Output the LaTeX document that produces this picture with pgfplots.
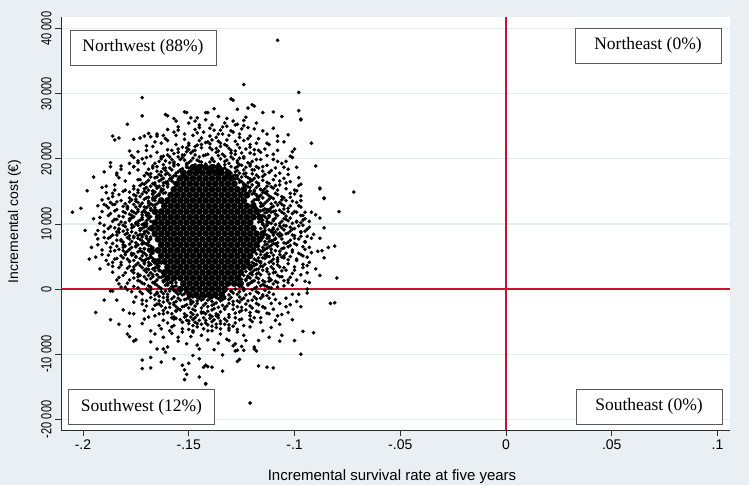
\documentclass[border=0pt]{standalone}
\usepackage{pgfplots}
\pgfplotsset{compat=1.18}
\usepackage{fontspec}
\setmainfont{Liberation Sans}
\newfontfamily\boxfont{Liberation Serif}
\definecolor{bgc}{RGB}{233,239,243}
\definecolor{gridc}{RGB}{228,236,241}
\definecolor{redc}{RGB}{204,16,48}
\definecolor{axc}{RGB}{45,45,45}
\definecolor{boxc}{RGB}{90,90,90}
\newcommand{\yl}[1]{\scalebox{0.76}[1]{#1}}
\begin{document}
\begin{tikzpicture}[x=1pt,y=1pt]
\fill[bgc] (0,0) rectangle (749,485);
\begin{axis}[
  at={(61pt,55pt)}, anchor=south west,
  scale only axis, width=669pt, height=413pt,
  xmin=-0.2104, xmax=0.1059, ymin=-21640, ymax=41780,
  axis background/.style={fill=white},
  axis x line*=bottom, axis y line*=left,
  axis line style={axc, line width=0.8pt, -},
  xtick={-0.2,-0.15,-0.1,-0.05,0,0.05,0.1},
  xticklabels={-.2,-.15,-.1,-.05,0,.05,.1},
  ytick={-20000,-10000,0,10000,20000,30000,40000},
  yticklabels={\yl{-20 000},\yl{-10 000},\yl{0},\yl{10 000},\yl{20 000},\yl{30 000},\yl{40 000}},
  tick align=outside, major tick length=6pt,
  tick style={axc, line width=0.8pt},
  ymajorgrids, grid style={gridc, line width=1.2pt},
  xticklabel style={font=\fontsize{14}{14}\selectfont},
  yticklabel style={font=\fontsize{14.5}{14.5}\selectfont, rotate=90, anchor=south},
  scaled ticks=false,
]
\addplot[redc, line width=1.2pt] coordinates {(0,-21640) (0,41780)};
\addplot[redc, line width=1.2pt] coordinates {(-0.2104,0) (0.1059,0)};
% dense core of the cloud (overlapping points)
\addplot[only marks, mark=*, mark size=3.3pt, mark options={draw=black, fill=black, line width=0.2pt}]
table[row sep=\\, x expr=\thisrow{s}/1000, y expr=\thisrow{c}*100] {
s c\\
-166 85\\-163 85\\-160 85\\-157 85\\-154 85\\-151 85\\-148 85\\-145 85\\-142 85\\-139 85\\-136 85\\-133 85\\-130 85\\-127 85\\-124 85\\-121 85\\-118 85\\-115 85\\
-167.5 93.5\\-164.5 93.5\\-161.5 93.5\\-158.5 93.5\\-155.5 93.5\\-152.5 93.5\\-149.5 93.5\\-146.5 93.5\\-143.5 93.5\\-140.5 93.5\\-137.5 93.5\\-134.5 93.5\\-131.5 93.5\\-128.5 93.5\\-125.5 93.5\\-122.5 93.5\\-119.5 93.5\\
-164.5 76.5\\-161.5 76.5\\-158.5 76.5\\-155.5 76.5\\-152.5 76.5\\-149.5 76.5\\-146.5 76.5\\-143.5 76.5\\-140.5 76.5\\-137.5 76.5\\-134.5 76.5\\-131.5 76.5\\-128.5 76.5\\-125.5 76.5\\-122.5 76.5\\-119.5 76.5\\-116.5 76.5\\
-166 102\\-163 102\\-160 102\\-157 102\\-154 102\\-151 102\\-148 102\\-145 102\\-142 102\\-139 102\\-136 102\\-133 102\\-130 102\\-127 102\\-124 102\\-121 102\\
-163 68\\-160 68\\-157 68\\-154 68\\-151 68\\-148 68\\-145 68\\-142 68\\-139 68\\-136 68\\-133 68\\-130 68\\-127 68\\-124 68\\-121 68\\-118 68\\
-164.5 110.5\\-161.5 110.5\\-158.5 110.5\\-155.5 110.5\\-152.5 110.5\\-149.5 110.5\\-146.5 110.5\\-143.5 110.5\\-140.5 110.5\\-137.5 110.5\\-134.5 110.5\\-131.5 110.5\\-128.5 110.5\\-125.5 110.5\\-122.5 110.5\\-119.5 110.5\\-116.5 110.5\\
-167.5 59.5\\-164.5 59.5\\-161.5 59.5\\-158.5 59.5\\-155.5 59.5\\-152.5 59.5\\-149.5 59.5\\-146.5 59.5\\-143.5 59.5\\-140.5 59.5\\-137.5 59.5\\-134.5 59.5\\-131.5 59.5\\-128.5 59.5\\-125.5 59.5\\-122.5 59.5\\-119.5 59.5\\
-166 119\\-163 119\\-160 119\\-157 119\\-154 119\\-151 119\\-148 119\\-145 119\\-142 119\\-139 119\\-136 119\\-133 119\\-130 119\\-127 119\\-124 119\\-121 119\\-118 119\\
-163 51\\-160 51\\-157 51\\-154 51\\-151 51\\-148 51\\-145 51\\-142 51\\-139 51\\-136 51\\-133 51\\-130 51\\-127 51\\-124 51\\-121 51\\
-161.5 127.5\\-158.5 127.5\\-155.5 127.5\\-152.5 127.5\\-149.5 127.5\\-146.5 127.5\\-143.5 127.5\\-140.5 127.5\\-137.5 127.5\\-134.5 127.5\\-131.5 127.5\\-128.5 127.5\\-125.5 127.5\\-122.5 127.5\\-119.5 127.5\\
-164.5 42.5\\-161.5 42.5\\-158.5 42.5\\-155.5 42.5\\-152.5 42.5\\-149.5 42.5\\-146.5 42.5\\-143.5 42.5\\-140.5 42.5\\-137.5 42.5\\-134.5 42.5\\-131.5 42.5\\-128.5 42.5\\-125.5 42.5\\-122.5 42.5\\
-163 136\\-160 136\\-157 136\\-154 136\\-151 136\\-148 136\\-145 136\\-142 136\\-139 136\\-136 136\\-133 136\\-130 136\\-127 136\\-124 136\\
-160 34\\-157 34\\-154 34\\-151 34\\-148 34\\-145 34\\-142 34\\-139 34\\-136 34\\-133 34\\-130 34\\-127 34\\-124 34\\-121 34\\
-158.5 144.5\\-155.5 144.5\\-152.5 144.5\\-149.5 144.5\\-146.5 144.5\\-143.5 144.5\\-140.5 144.5\\-137.5 144.5\\-134.5 144.5\\-131.5 144.5\\-128.5 144.5\\-125.5 144.5\\-122.5 144.5\\
-161.5 25.5\\-158.5 25.5\\-155.5 25.5\\-152.5 25.5\\-149.5 25.5\\-146.5 25.5\\-143.5 25.5\\-140.5 25.5\\-137.5 25.5\\-134.5 25.5\\-131.5 25.5\\-128.5 25.5\\-125.5 25.5\\
-157 153\\-154 153\\-151 153\\-148 153\\-145 153\\-142 153\\-139 153\\-136 153\\-133 153\\-130 153\\-127 153\\-124 153\\
-160 17\\-157 17\\-154 17\\-151 17\\-148 17\\-145 17\\-142 17\\-139 17\\-136 17\\-133 17\\-130 17\\-127 17\\
-155.5 161.5\\-152.5 161.5\\-149.5 161.5\\-146.5 161.5\\-143.5 161.5\\-140.5 161.5\\-137.5 161.5\\-134.5 161.5\\-131.5 161.5\\-128.5 161.5\\
-152.5 8.5\\-149.5 8.5\\-146.5 8.5\\-143.5 8.5\\-140.5 8.5\\-137.5 8.5\\-134.5 8.5\\-131.5 8.5\\-128.5 8.5\\-125.5 8.5\\
-154 170\\-151 170\\-148 170\\-145 170\\-142 170\\-139 170\\-136 170\\-133 170\\-130 170\\
-154 0\\-151 0\\-148 0\\-145 0\\-142 0\\-139 0\\-136 0\\-133 0\\
-152.5 178.5\\-149.5 178.5\\-146.5 178.5\\-143.5 178.5\\-140.5 178.5\\-137.5 178.5\\-134.5 178.5\\-131.5 178.5\\
-148 187\\-145 187\\-142 187\\-139 187\\-136 187\\
-149.5 -8.5\\-146.5 -8.5\\-143.5 -8.5\\-140.5 -8.5\\-137.5 -8.5\\-134.5 -8.5\\
};
% individual points around the core
\addplot[only marks, mark=*, mark size=1.75pt, mark options={draw=black, fill=black, line width=0.2pt}]
table[row sep=\\, x expr=\thisrow{s}/1000, y expr=\thisrow{c}*100] {
s c\\
-171 161\\-168 172\\-173 168\\-165 181\\-162 191\\-158 199\\-153 206\\-150 214\\-146 221\\-141 226\\-137 233\\-132 229\\-127 222\\-123 215\\-119 207\\-116 199\\-113 190\\-111 182\\-109 174\\-107 166\\
-170 178\\-167 189\\-163 203\\-160 214\\-156 222\\-152 230\\-148 236\\-143 241\\-138 244\\-134 238\\-130 243\\-126 238\\-122 231\\-118 224\\-114 215\\-110 207\\-108 196\\-105 187\\
-164 176\\-161 186\\-157 195\\-154 183\\-151 193\\-148 201\\-145 196\\-142 206\\-139 199\\-136 205\\-133 196\\-130 203\\-127 194\\-124 201\\-121 192\\-118 188\\-115 181\\-120 183\\-123 178\\-127 188\\
-159 203\\-155 210\\-151 217\\-147 213\\-144 222\\-140 217\\-135 224\\-131 216\\-128 227\\-125 209\\-121 218\\-117 213\\-113 224\\-156 236\\-161 231\\-166 226\\-170 220\\-174 211\\-176 202\\-178 193\\
-145 248\\-139 252\\-134 249\\-129 258\\-150 255\\-142 260\\-136 265\\-155 244\\-119 246\\-124 251\\
-176 158\\-180 152\\-183 145\\-178 140\\-182 136\\-185 130\\-179 127\\-184 122\\-187 116\\-181 111\\-186 104\\-183 99\\-188 93\\-184 88\\-187 80\\-182 76\\-186 70\\-181 64\\-185 59\\-180 53\\-184 47\\-178 43\\-182 37\\-176 30\\-180 25\\-174 19\\-178 14\\-172 9\\-176 4\\-170 0\\-189 148\\-191 137\\-192 110\\-190 98\\-193 68\\-189 44\\-177 55\\-179 86\\-176 118\\-174 148\\-188 125\\-185 152\\-190 79\\-186 35\\-183 18\\-179 -1\\-173 -4\\-177 99\\-181 59\\-175 65\\
-107 160\\-104 154\\-102 147\\-105 140\\-101 135\\-98 128\\-103 124\\-100 119\\-97 113\\-102 109\\-99 104\\-96 98\\-100 93\\-97 88\\-101 83\\-98 77\\-95 73\\-100 70\\-96 65\\-101 60\\-98 55\\-102 50\\-99 44\\-103 39\\-100 34\\-104 29\\-101 24\\-106 19\\-103 14\\-108 10\\-105 5\\-111 2\\-94 81\\-93 95\\-95 108\\-96 51\\-97 143\\-104 163\\-109 159\\-106 130\\-107 86\\-108 48\\-105 98\\-104 70\\-112 12\\-114 5\\-92 118\\-94 36\\-99 151\\-102 18\\
-168 -6\\-164 -11\\-160 -16\\-157 -21\\-152 -26\\-148 -31\\-144 -35\\-140 -40\\-136 -44\\-132 -49\\-128 -52\\-125 -46\\-121 -41\\-117 -35\\-114 -29\\-111 -22\\-109 -16\\-113 -10\\-119 -12\\-126 -20\\-132 -26\\-138 -30\\-143 -25\\-149 -20\\-155 -14\\-161 -3\\-166 -25\\-162 -38\\-157 -43\\-153 -51\\-147 -44\\-142 -48\\-137 -54\\-131 -60\\-124 -56\\-120 -50\\-116 -44\\-112 -38\\-110 -8\\-170 -18\\-150 -62\\-141 -64\\-135 -61\\-127 -62\\-158 -58\\
-147 219\\-142 225\\-137 216\\-132 220\\-155 215\\-128 212\\-144 232\\-139 229\\
-160 206\\-155 203\\-151 211\\-143 205\\-139 201\\-134 207\\-130 209\\-126 201\\-152 206\\-136 212\\
-164 196\\-159 194\\-155 191\\-152 198\\-147 191\\-140 195\\-136 192\\-132 198\\-126 191\\-120 196\\-149 197\\-133 191\\
-167 186\\-162 185\\-158 183\\-154 182\\-151 187\\-147 184\\-142 188\\-139 182\\-135 187\\-132 183\\-128 186\\-124 183\\-121 189\\-117 186\\-155 191\\-145 180\\
-152 175\\-154 171\\-157 174\\-160 178\\-163 174\\-166 171\\-169 176\\-132 173\\-130 178\\-127 174\\-124 177\\-122 171\\-118 175\\-115 173\\
-157 163\\-159 169\\-161 164\\-164 166\\-167 162\\-170 164\\-156 160\\-128 162\\-125 165\\-122 163\\-120 167\\-117 162\\-113 164\\-127 170\\
-160 157\\-163 151\\-165 155\\-168 158\\-171 154\\-174 152\\-160 161\\-124 154\\-121 151\\-118 156\\-116 153\\-113 158\\-110 155\\-123 159\\
-162 147\\-165 143\\-167 145\\-170 148\\-173 142\\-176 145\\-163 150\\-122 142\\-119 147\\-116 144\\-113 146\\-111 141\\-108 145\\-121 150\\
-164 134\\-166 139\\-169 135\\-172 132\\-175 138\\-178 134\\-165 131\\-120 134\\-117 137\\-114 132\\-112 138\\-109 133\\-106 137\\-119 131\\
-166 125\\-168 121\\-171 126\\-174 122\\-176 130\\-179 125\\-167 129\\-118 124\\-115 129\\-112 122\\-110 127\\-107 121\\-105 128\\-117 121\\
-168 111\\-170 117\\-172 114\\-175 116\\-177 113\\-181 119\\-171 120\\-117 115\\-114 111\\-111 118\\-108 113\\-105 116\\-103 119\\-116 120\\
-168 104\\-170 101\\-172 107\\-175 102\\-178 108\\-182 103\\-169 110\\-115 106\\-112 102\\-109 109\\-106 104\\-104 107\\-101 101\\-117 103\\
-169 93\\-171 95\\-174 98\\-177 94\\-180 96\\-183 92\\-170 100\\-116 93\\-113 98\\-110 94\\-107 97\\-105 91\\-102 95\\-115 101\\
-169 86\\-172 83\\-175 86\\-178 82\\-181 89\\-184 83\\-173 90\\-116 85\\-112 81\\-109 88\\-106 83\\-103 86\\-100 82\\-114 90\\
-169 75\\-171 71\\-174 78\\-177 73\\-179 79\\-182 74\\-168 80\\-117 72\\-115 79\\-111 74\\-109 78\\-105 71\\-102 75\\-116 80\\
-167 64\\-170 69\\-173 62\\-175 66\\-178 61\\-181 68\\-169 61\\-117 66\\-114 61\\-112 65\\-109 69\\-106 62\\-103 65\\-118 70\\
-167 55\\-169 59\\-172 51\\-174 57\\-177 52\\-180 56\\-168 50\\-118 54\\-115 59\\-113 55\\-110 52\\-107 58\\-105 51\\-119 60\\
-166 45\\-168 49\\-171 42\\-173 47\\-176 44\\-179 46\\-166 40\\-119 46\\-116 42\\-114 47\\-111 43\\-108 45\\-105 48\\-120 41\\
-164 35\\-167 31\\-169 36\\-172 33\\-175 37\\-178 35\\-163 40\\-121 33\\-118 38\\-115 35\\-113 31\\-110 39\\-107 34\\-122 39\\
-162 24\\-164 28\\-167 22\\-170 26\\-173 21\\-176 25\\-160 29\\-123 27\\-120 22\\-117 25\\-115 29\\-112 23\\-109 26\\-124 21\\
-160 16\\-162 11\\-165 14\\-167 19\\-170 15\\-174 13\\-158 12\\-125 15\\-121 17\\-119 13\\-117 16\\-114 11\\-111 14\\-126 19\\
-156 5\\-158 1\\-161 6\\-164 3\\-166 8\\-169 5\\-156 10\\-127 7\\-125 4\\-122 6\\-119 1\\-116 5\\-113 4\\-128 9\\
-151 -4\\-153 -9\\-156 -5\\-159 -3\\-162 -7\\-165 -5\\-168 -1\\-133 -4\\-129 -6\\-126 -4\\-123 -9\\-120 -1\\-117 -6\\-114 -2\\
-166 -16\\-162 -13\\-157 -12\\-154 -17\\-150 -14\\-146 -18\\-143 -12\\-140 -15\\-137 -13\\-134 -16\\-130 -13\\-127 -18\\-124 -14\\-120 -17\\-116 -14\\-149 -17\\-139 -19\\
-163 -26\\-159 -22\\-156 -27\\-151 -24\\-146 -22\\-141 -27\\-138 -23\\-134 -25\\-129 -24\\-125 -28\\-121 -26\\-118 -22\\-150 -29\\-133 -29\\
-160 -36\\-156 -34\\-152 -38\\-147 -33\\-143 -36\\-139 -32\\-135 -35\\-131 -39\\-126 -35\\-123 -32\\-148 -39\\-136 -40\\
-156 -45\\-152 -43\\-148 -47\\-143 -44\\-138 -47\\-133 -46\\-128 -44\\-150 -49\\-139 -50\\
-148 -56\\-144 -54\\-139 -57\\-135 -53\\-131 -55\\
-152 177\\-149 181\\-146 183\\-137 182\\-134 178\\-131 181\\-156 174\\-128 175\\-141 185\\-144 187\\-139 188\\-150 186\\-133 186\\-147 176\\-136 176\\
-158 170\\-160 165\\-162 159\\-163 154\\-161 148\\-164 146\\-166 141\\-159 175\\-165 157\\-167 150\\-162 163\\-155 168\\
-128 169\\-126 164\\-124 160\\-121 156\\-119 150\\-118 145\\-117 141\\-125 172\\-121 165\\-116 153\\-129 174\\-114 148\\
-167 137\\-169 132\\-166 129\\-170 125\\-171 119\\-169 114\\-172 110\\-170 105\\-171 98\\-172 93\\-171 88\\-170 81\\-168 77\\-169 72\\-168 66\\-171 62\\-172 57\\-168 53\\-169 47\\-167 43\\-168 38\\-165 33\\-166 28\\-165 22\\-167 140\\-173 127\\-174 101\\-173 84\\-172 69\\-171 44\\-169 30\\-170 116\\
-119 137\\-116 132\\-115 128\\-114 123\\-113 118\\-112 113\\-113 108\\-116 104\\-115 99\\-114 94\\-111 88\\-110 83\\-113 78\\-112 73\\-114 68\\-113 63\\-115 58\\-116 53\\-117 48\\-118 44\\-119 39\\-116 35\\-121 30\\-120 26\\-110 92\\-109 77\\-111 67\\-113 51\\-112 121\\-117 141\\-118 23\\-110 105\\
-164 18\\-162 13\\-158 9\\-157 4\\-159 0\\-156 -3\\-152 -7\\-150 -10\\-160 6\\-155 -8\\-161 15\\
-122 18\\-123 13\\-122 8\\-126 4\\-128 0\\-130 -3\\-134 -6\\-137 -10\\-124 -1\\-120 12\\-131 -9\\
-148 -12\\-145 -14\\-142 -11\\-139 -13\\-144 -17\\-136 -15\\-151 -15\\-133 -12\\
-150 224\\-145 228\\-140 223\\-136 227\\-133 222\\
-158 213\\-153 218\\-148 212\\-144 217\\-139 214\\-135 219\\-130 213\\-126 217\\-150 221\\
-162 204\\-157 208\\-153 202\\-149 209\\-145 203\\-141 207\\-137 210\\-133 204\\-128 207\\-124 203\\-121 209\\-147 206\\
-166 193\\-161 197\\-157 192\\-154 199\\-150 194\\-146 198\\-142 192\\-138 196\\-135 200\\-131 193\\-127 197\\-122 194\\-118 199\\-163 200\\-144 195\\-129 200\\
-169 184\\-165 188\\-161 182\\-157 189\\-153 185\\-149 181\\-146 187\\-141 183\\-138 189\\-134 184\\-130 188\\-127 182\\-123 187\\-119 183\\-115 188\\-151 190\\-136 181\\-144 190\\-125 190\\-159 186\\
-153 173\\-156 178\\-158 171\\-161 176\\-165 172\\-168 177\\-163 180\\-171 174\\-155 180\\
-131 176\\-129 171\\-126 178\\-123 173\\-120 177\\-117 172\\-114 176\\-128 180\\-112 179\\
-158 166\\-160 161\\-163 168\\-166 163\\-169 167\\-162 170\\-172 162\\-174 168\\
-126 167\\-124 162\\-121 169\\-118 164\\-115 167\\-112 162\\-110 168\\-119 170\\
-162 153\\-164 158\\-167 151\\-170 156\\-173 159\\-166 160\\-176 154\\-169 152\\
-122 157\\-119 152\\-117 159\\-114 154\\-111 157\\-108 152\\-120 160\\-115 151\\
-164 144\\-166 149\\-169 141\\-172 146\\-175 143\\-167 147\\-178 149\\-171 150\\
-120 146\\-117 141\\-115 148\\-112 143\\-109 147\\-106 142\\-113 150\\-118 144\\
-166 136\\-168 131\\-171 138\\-174 133\\-177 137\\-170 140\\-180 131\\-175 135\\
-118 138\\-116 132\\-113 135\\-110 139\\-107 133\\-111 131\\-104 136\\-115 140\\
-168 124\\-171 121\\-169 128\\-175 126\\-179 123\\-173 129\\-177 120\\-181 127\\
-115 121\\-116 127\\-111 125\\-108 129\\-113 122\\-105 123\\-102 128\\-109 120\\
-170 113\\-172 118\\-176 111\\-169 116\\-178 115\\-183 112\\-174 119\\-180 117\\
-114 117\\-112 111\\-109 115\\-115 113\\-106 118\\-104 112\\-110 119\\-101 116\\
-171 101\\-169 108\\-174 104\\-177 109\\-173 106\\-180 102\\-184 107\\-178 105\\
-113 104\\-116 109\\-110 107\\-107 101\\-111 101\\-105 108\\-103 105\\-99 103\\
-170 97\\-173 93\\-172 99\\-176 96\\-179 91\\-181 98\\-175 100\\-185 94\\
-114 96\\-112 91\\-109 99\\-106 94\\-113 100\\-104 97\\-101 92\\-108 92\\
-171 85\\-174 82\\-177 88\\-170 89\\-180 84\\-176 81\\-183 87\\-172 80\\
-113 83\\-115 88\\-110 86\\-107 81\\-111 90\\-104 85\\-102 89\\-108 84\\
-172 74\\-170 78\\-175 71\\-178 77\\-173 76\\-181 72\\-176 79\\-184 75\\
-114 73\\-112 78\\-116 76\\-108 71\\-106 77\\-110 75\\-103 72\\-100 78\\
-169 67\\-171 62\\-174 68\\-177 64\\-172 70\\-180 66\\-183 61\\-178 69\\
-115 64\\-113 69\\-111 61\\-108 66\\-105 63\\-110 70\\-102 67\\-117 61\\
-168 57\\-170 52\\-173 59\\-176 54\\-171 55\\-179 58\\-182 51\\-175 50\\
-116 58\\-114 52\\-111 56\\-107 53\\-109 59\\-104 55\\-112 50\\-101 57\\
-167 47\\-169 41\\-172 44\\-175 49\\-170 46\\-178 42\\-181 48\\-174 40\\
-117 43\\-115 48\\-112 41\\-110 46\\-106 49\\-108 42\\-103 45\\-113 50\\
-166 33\\-168 38\\-170 31\\-173 36\\-176 34\\-171 39\\-179 32\\-165 37\\
-119 36\\-117 31\\-114 38\\-111 34\\-108 37\\-110 31\\-105 33\\-116 40\\
-163 27\\-165 22\\-168 25\\-171 29\\-174 23\\-169 21\\-177 28\\-164 30\\
-121 24\\-119 29\\-116 22\\-113 27\\-110 25\\-108 21\\-106 28\\-118 30\\
-161 13\\-163 18\\-166 11\\-168 16\\-171 19\\-173 12\\-176 17\\-162 20\\
-123 15\\-120 11\\-118 18\\-115 13\\-112 17\\-109 12\\-107 19\\-122 20\\
-158 4\\-160 9\\-163 1\\-165 6\\-168 3\\-171 8\\-174 2\\-159 10\\-167 10\\
-126 6\\-124 1\\-121 9\\-118 3\\-115 7\\-112 2\\-110 8\\-125 10\\-117 10\\
-154 -6\\-157 -2\\-160 -8\\-163 -4\\-166 -9\\-169 -3\\-172 -7\\
-130 -3\\-127 -8\\-124 -2\\-121 -7\\-118 -4\\-115 -9\\-112 -5\\
-150 -11\\-146 -13\\-139 -12\\-135 -14\\-143 -15\\
-168 -13\\-164 -18\\-160 -12\\-156 -19\\-152 -16\\-148 -20\\-141 -17\\-137 -21\\-133 -14\\-129 -19\\-126 -12\\-122 -18\\-118 -15\\-115 -11\\-158 -15\\-145 -14\\-131 -16\\-125 -16\\-162 -20\\-135 -18\\
-165 -23\\-161 -29\\-157 -24\\-153 -27\\-149 -23\\-144 -29\\-139 -25\\-136 -28\\-131 -22\\-127 -27\\-123 -23\\-120 -29\\-117 -24\\-155 -30\\-142 -22\\-129 -31\\-147 -26\\
-162 -33\\-158 -38\\-154 -32\\-149 -36\\-146 -40\\-141 -34\\-137 -38\\-133 -31\\-128 -37\\-125 -33\\-121 -36\\-151 -41\\-139 -42\\-144 -37\\
-158 -44\\-154 -47\\-149 -43\\-145 -48\\-140 -45\\-135 -49\\-131 -43\\-126 -47\\-147 -51\\-137 -41\\-142 -52\\
-150 -53\\-146 -58\\-141 -55\\-137 -59\\-133 -54\\-143 -61\\-129 -57\\
-185 160\\-183 171\\-180 166\\-178 178\\-176 188\\-174 183\\-171 193\\-181 150\\-186 147\\-188 139\\-177 205\\-170 213\\-167 219\\-163 224\\-160 228\\-165 210\\-172 200\\-184 178\\
-186 142\\-189 128\\-184 134\\-191 119\\-188 113\\-185 107\\-192 101\\-187 96\\-190 88\\-186 83\\-193 77\\-189 71\\-184 66\\-187 58\\-191 53\\-185 46\\-188 38\\-183 33\\-186 26\\-181 21\\-184 14\\-179 9\\-182 3\\-195 108\\-194 84\\-196 64\\-183 92\\-185 120\\-188 52\\-192 31\\
-177 -4\\-175 -12\\-172 -17\\-170 -26\\-167 -31\\-166 -41\\-162 -48\\-160 -52\\-157 -56\\-163 -61\\-158 -68\\-153 -66\\-155 -80\\-176 -20\\-171 -46\\
-148 -66\\-144 -71\\-139 -64\\-135 -69\\-131 -63\\-127 -66\\-141 -78\\-136 -83\\-132 -77\\-146 -86\\-138 -93\\-134 -101\\-128 -84\\-124 -71\\
-119 -44\\-116 -51\\-113 -37\\-110 -31\\-107 -22\\-104 -14\\-101 -8\\-112 -14\\-115 -27\\-118 -34\\-121 -47\\-109 -48\\-103 -36\\-99 -19\\
-101 6\\-99 14\\-97 22\\-100 29\\-96 38\\-99 46\\-97 53\\-95 61\\-99 68\\-97 81\\-95 89\\-98 97\\-96 106\\-99 118\\-97 126\\-99 133\\-102 141\\-100 152\\-98 159\\-102 165\\-95 118\\-93 104\\-91 84\\-92 56\\-94 25\\-103 10\\
-105 170\\-107 178\\-103 176\\-109 186\\-106 193\\-110 199\\-113 205\\-116 210\\-119 214\\-121 222\\-124 228\\-108 213\\-104 196\\-112 222\\-126 233\\-117 231\\-131 236\\-136 238\\-140 235\\-146 240\\-152 238\\-157 241\\-162 236\\
-147 245\\-140 247\\-135 244\\-129 241\\-125 246\\-155 249\\-160 245\\-133 255\\-145 252\\
-108 382\\-124 314\\-98 302\\-98 274\\-97 260\\-92 224\\-130 292\\-129 290\\-120 283\\-119 281\\-138 277\\-127 276\\-122 278\\-115 271\\-110 272\\-106 265\\-142 271\\-132 262\\-124 259\\-123 264\\
-132 250\\-128 252\\-127 253\\-122 248\\-118 255\\-115 243\\-110 247\\-108 235\\-103 237\\-105 226\\-101 211\\-100 215\\-102 204\\-108 227\\-121 235\\-113 238\\
-172 294\\-172 266\\-179 253\\-186 235\\-185 229\\-183 232\\-176 230\\-173 232\\-171 235\\-168 234\\-165 235\\
-161 268\\-160 266\\-157 262\\-152 272\\-149 263\\-147 258\\-141 271\\-151 271\\-146 263\\
-178 212\\-174 197\\-169 239\\-165 238\\-156 258\\-97 261\\
-187 194\\-187 188\\-182 189\\-182 184\\-190 180\\-195 172\\-176 188\\-174 194\\-170 202\\-168 204\\-184 175\\-198 151\\-191 156\\-189 158\\-205 118\\-201 124\\-193 128\\-190 130\\-187 133\\-186 130\\-199 90\\-193 90\\-188 78\\-191 60\\-197 46\\-194 49\\-186 41\\-182 41\\-187 64\\-183 8\\-180 3\\
-90 189\\-88 154\\-86 139\\-79 119\\-90 114\\-88 109\\-86 94\\-92 78\\-88 78\\-84 64\\-81 66\\-89 58\\-87 59\\-86 48\\-90 31\\-88 21\\-80 17\\-96 113\\-97 102\\-94 92\\-97 87\\-95 72\\-93 64\\-94 49\\-93 41\\-96 33\\-95 12\\-99 187\\-98 171\\-97 161\\-101 202\\-100 146\\-97 136\\-103 184\\-72 149\\-86 140\\-88 155\\-83 -22\\-81 -21\\
-97 -27\\-96 -65\\-91 -67\\-97 -100\\-100 -79\\-107 -80\\-106 -71\\-110 -121\\-113 -120\\-117 -118\\-121 -175\\-126 -108\\-127 -111\\-134 -126\\-139 -120\\-141 -119\\-142 -145\\-119 -92\\-118 -95\\-119 -89\\-124 -94\\-128 -95\\-101 -47\\-106 -39\\-108 -41\\-104 -27\\-102 -24\\-107 -54\\-111 -59\\-112 -74\\-115 -64\\-117 -79\\-121 -58\\-123 -79\\-125 -88\\-127 -94\\-129 -87\\-131 -79\\-94 -6\\-94 0\\-98 -8\\-93 10\\-108 3\\-105 13\\
-187 -3\\-186 -3\\-190 -17\\-184 -17\\-194 -36\\-181 -32\\-178 -37\\-176 -38\\-187 -47\\-183 -54\\-178 -57\\-179 -69\\-178 -73\\-176 -80\\-175 -78\\-172 -23\\-171 -33\\-169 -43\\-172 -53\\-168 -64\\-166 -69\\-168 -81\\-164 -56\\-162 -74\\-165 -92\\-160 -89\\-172 -109\\-168 -105\\-172 -122\\-168 -121\\-163 -112\\-162 -92\\-161 -97\\-157 -107\\-153 -117\\-152 -124\\-151 -131\\-152 -139\\-145 -135\\-142 -146\\-150 -114\\-148 -102\\-145 -107\\-143 -120\\-142 -117\\-145 -92\\-151 -84\\-155 -74\\-149 -73\\-153 -61\\-148 -64\\-159 -64\\-157 -46\\-151 -48\\-146 -53\\-142 -38\\-156 -33\\-159 -28\\-164 -23\\-164 -38\\-160 -18\\-165 -7\\-157 -2\\
};
\end{axis}
\node[font=\fontsize{15}{15}\selectfont, anchor=base] at (392,5) {Incremental survival rate at five years};
\node[font=\fontsize{14}{14}\selectfont, rotate=90, anchor=base] at (18,263.5) {Incremental cost (€)};
\tikzset{qbox/.style={draw=boxc, fill=white, line width=0.8pt, minimum width=146pt, minimum height=35pt, inner sep=0pt, font=\boxfont\fontsize{17.5}{17.5}\selectfont}}
\node[qbox] at (143,437.5) {Northwest (88\%)};
\node[qbox] at (648,439.5) {Northeast (0\%)};
\node[qbox] at (141.5,78) {Southwest (12\%)};
\node[qbox] at (649,78.5) {Southeast (0\%)};
\end{tikzpicture}
\end{document}
